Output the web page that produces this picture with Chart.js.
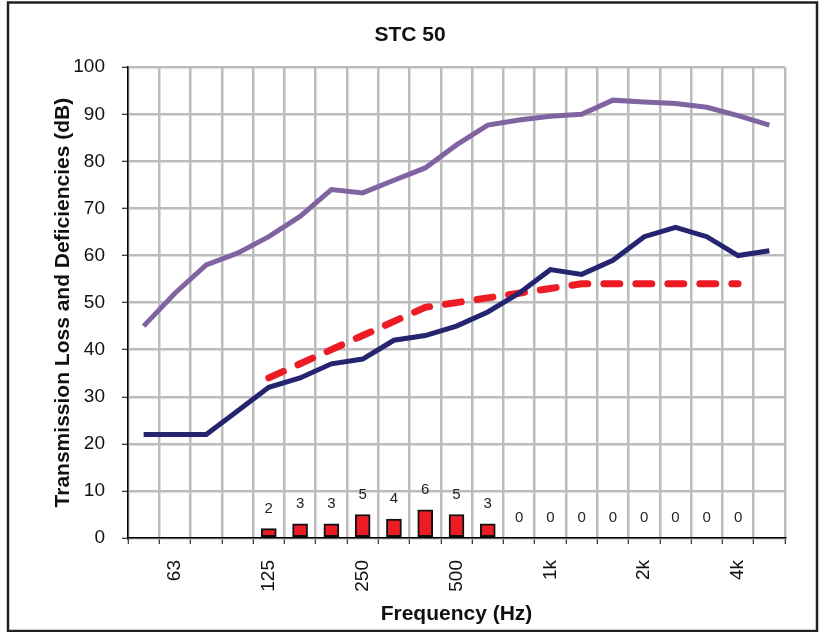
<!DOCTYPE html>
<html>
<head>
<meta charset="utf-8">
<script src="https://cdn.jsdelivr.net/npm/chart.js@4/dist/chart.umd.min.js"></script>
<style>
  body { margin: 0; background: #fff; }
  canvas { display: block; }
</style>
</head>
<body>
<canvas id="stc-chart" width="820" height="632"></canvas>
<script>
const frequencies = ['50', '63', '80', '100', '125', '160', '200', '250', '315', '400', '500',
    '630', '800', '1k', '1.25k', '1.6k', '2k', '2.5k', '3.15k', '4k', '5k'];
const tickLabels = ['', '63', '', '', '125', '', '', '250', '', '', '500',
    '', '', '1k', '', '', '2k', '', '', '4k', ''];
const upperCurve = [45, 52, 58, 60.5, 64, 68.3, 74, 73.3, 76, 78.6, 83.5,
    87.7, 88.8, 89.6, 90, 93, 92.6, 92.3, 91.5, 89.7, 87.7];
const transmissionLoss = [22, 22, 22, 27, 32, 34, 37, 38, 42, 43, 45,
    48, 52, 57, 56, 59, 64, 66, 64, 60, 61];
const stcContour = [null, null, null, null, 34, 37, 40, 43, 46, 49, 50,
    51, 52, 53, 54, 54, 54, 54, 54, 54, null];
const deficiencies = [null, null, null, null, 2, 3, 3, 5, 4, 6, 5,
    3, 0, 0, 0, 0, 0, 0, 0, 0, null];

const fontFamily = "'Liberation Sans', Arial, sans-serif";

// numbers over the deficiency bars
const barValues = {
    id: 'barValues',
    afterDatasetsDraw(chart) {
        const meta = chart.getDatasetMeta(0);
        const ctx = chart.ctx;
        ctx.save();
        ctx.font = '15px ' + fontFamily;
        ctx.fillStyle = '#222';
        ctx.textAlign = 'center';
        ctx.textBaseline = 'middle';
        meta.data.forEach((bar, i) => {
            const v = deficiencies[i];
            if (v === null) return;
            ctx.fillText(String(v), bar.x, bar.y - 20);
        });
        ctx.restore();
    }
};

// outer frame
const frame = {
    id: 'frame',
    afterDraw(chart) {
        const ctx = chart.ctx;
        ctx.save();
        ctx.strokeStyle = '#222';
        ctx.lineWidth = 2.5;
        ctx.strokeRect(8, 2.5, 809, 628.5);
        ctx.restore();
    }
};

new Chart(document.getElementById('stc-chart'), {
    type: 'bar',
    data: {
        labels: frequencies,
        datasets: [
            {
                type: 'bar',
                label: 'Deficiencies',
                data: deficiencies,
                backgroundColor: '#ed1c24',
                borderColor: '#111',
                borderWidth: 2,
                borderSkipped: false,
                barThickness: 15,
                order: 4
            },
            {
                type: 'line',
                label: 'Upper',
                data: upperCurve,
                borderColor: '#8064a2',
                borderWidth: 5,
                pointRadius: 0,
                tension: 0,
                order: 3
            },
            {
                type: 'line',
                label: 'STC contour',
                data: stcContour,
                borderColor: '#ed1c24',
                borderWidth: 7,
                borderDash: [16, 16],
                borderCapStyle: 'round',
                pointRadius: 0,
                tension: 0,
                spanGaps: false,
                order: 2
            },
            {
                type: 'line',
                label: 'Transmission Loss',
                data: transmissionLoss,
                borderColor: '#24246f',
                borderWidth: 5,
                pointRadius: 0,
                tension: 0,
                order: 1
            }
        ]
    },
    options: {
        responsive: false,
        animation: false,
        layout: { padding: { left: 35, right: 35, top: 0, bottom: 4 } },
        plugins: {
            legend: { display: false },
            tooltip: { enabled: false },
            title: {
                display: true,
                text: 'STC 50',
                color: '#111',
                font: { family: fontFamily, size: 21, weight: 'bold' },
                padding: { top: 23, bottom: 19 }
            }
        },
        scales: {
            x: {
                offset: true,
                grid: {
                    offset: true,
                    color: '#bcbcbc',
                    lineWidth: 2.5,
                    tickColor: '#000',
                    tickWidth: 1,
                    tickLength: 6
                },
                border: { color: '#000', width: 1.5 },
                ticks: {
                    autoSkip: false,
                    minRotation: 90,
                    maxRotation: 90,
                    padding: 16,
                    color: '#111',
                    font: { family: fontFamily, size: 19 },
                    callback: (value, index) => tickLabels[index]
                },
                title: {
                    display: true,
                    text: 'Frequency (Hz)',
                    color: '#111',
                    font: { family: fontFamily, size: 21, weight: 'bold' },
                    padding: { top: 0, bottom: 1.5 }
                },
                afterFit: (scale) => { scale.height = 90; }
            },
            y: {
                min: 0,
                max: 100,
                grid: {
                    color: '#bcbcbc',
                    lineWidth: 2.5,
                    tickColor: '#000',
                    tickWidth: 1,
                    tickLength: 6
                },
                border: { color: '#000', width: 1.5 },
                ticks: {
                    stepSize: 10,
                    padding: 17,
                    color: '#111',
                    font: { family: fontFamily, size: 19 }
                },
                title: {
                    display: true,
                    text: 'Transmission Loss and Deficiencies (dB)',
                    color: '#111',
                    font: { family: fontFamily, size: 21, weight: 'bold' },
                    padding: { top: 16, bottom: 0 }
                },
                afterFit: (scale) => { scale.width = 93; }
            }
        }
    },
    plugins: [barValues, frame]
});
</script>
</body>
</html>
